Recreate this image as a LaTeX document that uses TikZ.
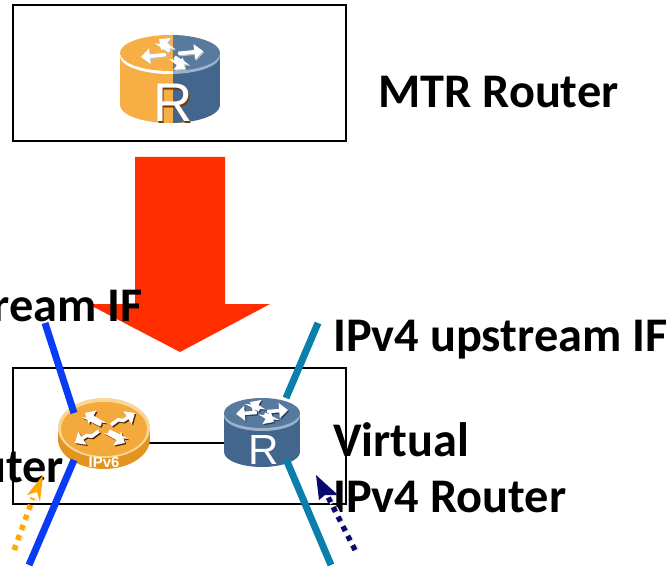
\documentclass[tikz,border=0pt]{standalone}
\usepackage{fontspec}
\setmainfont{Carlito}
\setsansfont{Liberation Sans}
\usetikzlibrary{arrows.meta}
\definecolor{canorange}{HTML}{F6AE45}
\definecolor{canblue}{HTML}{42668E}
\definecolor{cantop}{HTML}{587A9E}
\definecolor{canrim}{HTML}{9DB2C8}
\definecolor{discorange}{HTML}{E3931F}
\definecolor{disctop}{HTML}{F4A93C}
\definecolor{discrim}{HTML}{F9D596}
\definecolor{sixblue}{HTML}{0B3CF5}
\definecolor{fourteal}{HTML}{0A7FAC}
\definecolor{bigred}{HTML}{FF2D00}
\definecolor{dotorange}{HTML}{FFA800}
\definecolor{dotnavy}{HTML}{0A0A6E}
\definecolor{dotshade}{HTML}{EEEEE4}
\tikzset{
  routerbox/.style={draw=black, line width=1.1pt, minimum width=6.66cm, minimum height=2.72cm, inner sep=0pt},
  routerspot/.style={inner sep=0pt, minimum width=1.5cm, minimum height=1.4cm},
  bigtext/.style={font=\bfseries\fontsize{27.5}{32}\selectfont, inner sep=0pt, text=black},
  uplink/.style={line width=4pt},
  flowdots/.style={line width=3pt, dash pattern=on 3pt off 3.1pt}
}
% can: x, y, rx, ry, height, side, top, rim
\newcommand{\routercan}[8]{
  \fill[#6] (#1-#3,#2) rectangle (#1+#3,#2+#5);
  \fill[#6] (#1,#2+#5) ellipse [x radius=#3*0.02cm, y radius=#4*0.02cm];
  \fill[#8] (#1,#2+3) ellipse [x radius=#3*0.02cm, y radius=#4*0.02cm];
  \fill[#7] (#1,#2) ellipse [x radius=#3*0.02cm, y radius=#4*0.02cm];
}
% four arrows on the top of a router: x, y, two tips (the other two mirror them), shadow
\newcommand{\routerarrows}[7]{
  \begin{scope}[shift={(#1,#2)}]
    \foreach \dx/\dy/\col in {1.2/1.2/#7, 0/0/white} {
      \foreach \tx/\ty in {#3/#4, #5/#6, -#3/-#4, -#5/-#6} {
        \draw[\col, line width=2pt, -{Triangle[length=5pt,width=8.5pt]}]
          ({\dx+0.2*\tx},{\dy+0.2*\ty}) -- ({\dx+0.55*\tx+0.22*\ty},{\dy+0.55*\ty})
          -- ({\dx+0.5*\tx-0.22*\ty},{\dy+0.5*\ty}) -- ({\dx+\tx},{\dy+\ty});
      }
    }
  \end{scope}
}
\begin{document}
\begin{tikzpicture}[x=0.02cm, y=-0.02cm]
  \useasboundingbox (0,0) rectangle (668,567);
  \clip (0,0) rectangle (668,567);
  \node (mtrbox) [routerbox] at (179.5,73) {};
  \node (dualbox) [routerbox] at (179.5,436) {};
  % big arrow between the boxes
  \fill[bigred] (135,157) -- (225,157) -- (225,304) -- (270,304) -- (180,352) -- (88,304) -- (135,304) -- cycle;
  % the top router, split in two halves
  \node (mtrrouter) [routerspot] at (170,79) {};
  \routercan{170}{53}{50}{18}{52}{canorange}{canorange}{white}
  \begin{scope}
    \clip (173,20) rectangle (230,130);
    \routercan{170}{53}{50}{18}{52}{canblue}{cantop}{canrim}
  \end{scope}
  \routerarrows{172}{54}{-13}{-15}{31}{-3}{black!25}
  \node (mtrshade) [font=\sffamily\fontsize{31}{33}\selectfont, text=black!55!orange, inner sep=0pt] at (174.5,104.5) {R};
  \node (mtrr) [font=\sffamily\fontsize{31}{33}\selectfont, text=white, inner sep=0pt] at (173,103) {R};
  % links
  \coordinate (sixup) at (45,323);
  \coordinate (sixdown) at (29,565);
  \coordinate (fourup) at (318,323);
  \coordinate (fourdown) at (331,565);
  \coordinate (sixupend) at (74,413);
  \coordinate (sixdownend) at (74,460);
  \coordinate (fourupend) at (286,398);
  \coordinate (fourdownend) at (286,459);
  \node (sixrouter) [routerspot] at (104,443) {};
  \node (fourrouter) [routerspot] at (262,443) {};
  \draw[line width=1.1pt] (sixrouter) -- (fourrouter);
  \routercan{104}{428}{46}{30}{11}{discorange}{discrim}{discorange}
  \fill[disctop] (104,429) ellipse [x radius=43*0.02cm, y radius=27*0.02cm];
  \routerarrows{105}{428}{-20}{-15}{30}{-15}{black!70!orange}
  \node (sixtag) [font=\sffamily\bfseries\fontsize{8.5}{10}\selectfont, text=white, inner sep=0pt] at (104,462) {IPv6};
  \routercan{262}{413}{38}{15}{39}{canblue}{cantop}{canrim}
  \routerarrows{262}{412}{-12}{-10}{26}{-2}{canblue!60!black}
  \node (fourr) [font=\sffamily\fontsize{24}{26}\selectfont, text=white, inner sep=0pt] at (264,450) {R};
  \draw[sixblue, uplink] (sixup) -- (sixupend);
  \draw[sixblue, uplink] (sixdownend) -- (sixdown);
  \draw[fourteal, uplink] (fourup) -- (fourupend);
  \draw[fourteal, uplink] (fourdownend) -- (fourdown);
  % labels
  \node (mtrlabel) [bigtext, anchor=base west] at (378,108) {MTR Router};
  \node (sixuplabel) [bigtext, anchor=base east] at (143,321) {ream IF};
  \node (fouruplabel) [bigtext, anchor=base west] at (333,351) {IPv4 upstream IF};
  \node (virtlabel) [bigtext, anchor=base west] at (333,456) {Virtual};
  \node (ipvlabel) [bigtext, anchor=base west] at (333,512) {IPv4 Router};
  \node (sixrouterlabel) [bigtext, anchor=base east] at (64,482) {uter};
  % dotted traffic arrows
  \coordinate (sixfrom) at (14,550);
  \coordinate (sixneck) at (33,498);
  \coordinate (fourfrom) at (355,550);
  \coordinate (fourneck) at (328,497);
  \draw[dotshade, flowdots] (16,551) -- (35,499);
  \draw[dotshade, flowdots] (357,551) -- (330,498);
  \draw[dotorange, flowdots] (sixfrom) -- (sixneck);
  \fill[dotorange] (43,475) -- (40,502) -- (37,492) -- (27,495) -- cycle;
  \draw[dotnavy, flowdots] (fourfrom) -- (fourneck);
  \fill[dotnavy] (316,475) -- (319,500) -- (325,495) -- (338,495) -- cycle;
\end{tikzpicture}
\end{document}
